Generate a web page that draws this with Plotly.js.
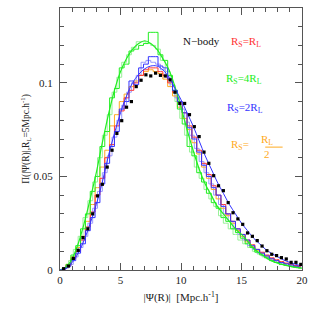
<!DOCTYPE html>
<html>
<head>
<meta charset="utf-8">
<script src="https://cdn.plot.ly/plotly-3.0.1.min.js"></script>
<style>html,body{margin:0;padding:0;background:#fff;}#chart{width:319px;height:319px;}</style>
</head>
<body>
<div id="chart"></div>
<script>
// N-body measured points (bin centres)
const nbodyX = [0.3,0.7,1.1,1.5,1.9,2.3,2.7,3.1,3.5,3.9,4.3,4.7,5.1,5.5,5.9,6.3,6.7,7.1,7.5,7.9,8.3,8.7,9.1,9.5,9.9,10.3,10.7,11.1,11.5,11.9,12.3,12.7,13.1,13.5,13.9,14.3,14.7,15.1,15.5,15.9,16.3,16.7,17.1,17.5,17.9,18.3,18.7,19.1,19.5,19.9];
const nbodyY = [0.0007,0.0021,0.0062,0.0105,0.0173,0.022,0.030,0.0396,0.0458,0.055,0.064,0.073,0.0798,0.087,0.090,0.098,0.1014,0.1043,0.1037,0.1052,0.104,0.1037,0.1016,0.095,0.089,0.089,0.083,0.0766,0.0713,0.063,0.057,0.0504,0.045,0.0424,0.036,0.0306,0.0273,0.0244,0.0198,0.018,0.0157,0.0128,0.0103,0.0084,0.0077,0.0066,0.0059,0.0041,0.0041,0.003];

// histogram bin centres
const binX = nbodyX;
const binX2 = [0.5,0.9,1.3,1.7,2.1,2.5,2.9,3.3,3.7,4.1,4.5,4.9,5.3,5.7,6.1,6.5,6.9,7.3,7.7,8.1,8.5,8.9,9.3,9.7,10.1,10.5,10.9,11.3,11.7,12.1,12.5,12.9,13.3,13.7,14.1,14.5,14.9,15.3,15.7,16.1,16.5,16.9,17.3,17.7,18.1,18.5,18.9,19.3,19.7];

const histRed = [0.0007,0.0025,0.006,0.010,0.016,0.023,0.031,0.040,0.049,0.060,0.067,0.077,0.085,0.092,0.096,0.100,0.104,0.107,0.108,0.108,0.106,0.104,0.100,0.095,0.090,0.084,0.077,0.071,0.064,0.057,0.051,0.045,0.040,0.035,0.030,0.026,0.022,0.019,0.016,0.0135,0.011,0.0095,0.008,0.0065,0.0055,0.0045,0.0037,0.003,0.0024,0.0019];
const histGreen = [0.001,0.003,0.008,0.013,0.022,0.030,0.042,0.050,0.066,0.074,0.092,0.097,0.108,0.110,0.117,0.118,0.120,0.121,0.127,0.127,0.115,0.112,0.104,0.096,0.086,0.078,0.066,0.061,0.052,0.047,0.041,0.036,0.033,0.028,0.026,0.022,0.020,0.017,0.014,0.012,0.0095,0.008,0.0065,0.005,0.004,0.003,0.0025,0.002,0.0015,0.001];
const histGreen2 = [0.002,0.005,0.011,0.018,0.028,0.037,0.047,0.060,0.072,0.083,0.095,0.103,0.111,0.115,0.119,0.122,0.122,0.121,0.120,0.118,0.112,0.106,0.099,0.090,0.081,0.072,0.063,0.055,0.049,0.043,0.038,0.034,0.029,0.025,0.022,0.019,0.016,0.014,0.012,0.010,0.0085,0.007,0.0058,0.0047,0.0038,0.003,0.0023,0.0017,0.0012];
const histBlue = [0.0005,0.002,0.005,0.009,0.014,0.021,0.028,0.036,0.046,0.057,0.066,0.074,0.086,0.090,0.101,0.099,0.108,0.110,0.114,0.114,0.109,0.108,0.102,0.096,0.090,0.084,0.076,0.070,0.063,0.056,0.050,0.044,0.040,0.034,0.030,0.026,0.022,0.019,0.016,0.013,0.011,0.009,0.0075,0.006,0.005,0.004,0.0033,0.0027,0.002,0.0015];
const histBlue2 = [0.001,0.003,0.007,0.012,0.018,0.025,0.033,0.042,0.052,0.061,0.071,0.080,0.088,0.095,0.100,0.104,0.111,0.112,0.111,0.110,0.107,0.103,0.098,0.092,0.086,0.079,0.072,0.065,0.058,0.052,0.046,0.040,0.035,0.030,0.026,0.022,0.019,0.016,0.013,0.011,0.009,0.0075,0.006,0.005,0.004,0.0032,0.0025,0.002,0.0015];
const histOrange = [0.001,0.003,0.007,0.012,0.018,0.026,0.035,0.044,0.055,0.064,0.077,0.083,0.090,0.094,0.098,0.101,0.104,0.106,0.107,0.106,0.105,0.102,0.098,0.093,0.087,0.081,0.075,0.068,0.062,0.055,0.049,0.043,0.038,0.033,0.029,0.025,0.021,0.018,0.015,0.0125,0.0105,0.009,0.0075,0.006,0.005,0.0042,0.0035,0.0028,0.0022,0.0017];

// smooth model curves
const curveX = [0,0.5,1,1.5,2,2.5,3,3.5,4,4.5,5,5.5,6,6.5,7,7.5,8,8.5,9,9.5,10,10.5,11,11.5,12,12.5,13,13.5,14,14.5,15,15.5,16,16.5,17,17.5,18,18.5,19,19.5,20];
const curveGreen = [0,0.0015,0.006,0.014,0.025,0.038,0.052,0.068,0.083,0.096,0.106,0.113,0.118,0.121,0.1225,0.121,0.118,0.113,0.107,0.098,0.087,0.075,0.064,0.054,0.046,0.040,0.034,0.030,0.026,0.022,0.019,0.0155,0.0115,0.009,0.0068,0.0048,0.0036,0.0027,0.002,0.0014,0.001];
const curveBlue = [0,0.001,0.004,0.009,0.016,0.025,0.035,0.047,0.061,0.073,0.084,0.093,0.1,0.1045,0.1075,0.109,0.109,0.107,0.103,0.097,0.091,0.084,0.077,0.069,0.061,0.054,0.047,0.041,0.035,0.030,0.025,0.021,0.017,0.014,0.011,0.0088,0.007,0.0053,0.004,0.003,0.0022];

const cRed = '#ff3333', cGreen = '#22ee22', cGreenL = '#99f099', cBlue = '#3333ff', cBlueL = '#9999ff', cOrange = '#ffaa22';

function hist(x, y, col, w) {
  return {x: x, y: y, type: 'scatter', mode: 'lines', line: {shape: 'hvh', color: col, width: w || 1}, hoverinfo: 'skip'};
}
const traces = [
  hist(binX2, histGreen2, cGreenL),
  hist(binX2, histBlue2, cBlueL),
  hist(binX, histOrange, cOrange),
  hist(binX, histRed, cRed),
  hist(binX, histGreen, cGreen),
  hist(binX, histBlue, cBlue),
  {x: curveX, y: curveGreen, type: 'scatter', mode: 'lines', line: {shape: 'spline', color: cGreen, width: 1.2}},
  {x: curveX, y: curveBlue, type: 'scatter', mode: 'lines', line: {shape: 'spline', color: cBlue, width: 1}},
  {x: nbodyX, y: nbodyY, type: 'scatter', mode: 'markers', marker: {symbol: 'square', size: 3.2, color: '#000'}}
];

const font = {family: 'Liberation Serif, Times New Roman, serif', size: 11, color: '#222'};
const axisCommon = {
  ticks: 'inside', ticklen: 7, tickcolor: '#555', tickwidth: 1,
  showline: true, linecolor: '#555', linewidth: 1, mirror: 'allticks',
  showgrid: false, zeroline: false, tickfont: font
};
const layout = {
  width: 319, height: 319,
  margin: {l: 60, r: 17, t: 8, b: 49},
  paper_bgcolor: '#fff', plot_bgcolor: '#fff',
  showlegend: false,
  font: font,
  xaxis: Object.assign({}, axisCommon, {
    range: [0, 20], tickmode: 'linear', tick0: 0, dtick: 5,
    minor: {dtick: 1, ticks: 'inside', ticklen: 4, tickcolor: '#555'},
    title: {text: '|Ψ(R)|  [Mpc.h<sup>-1</sup>]', font: {family: font.family, size: 11, color: '#222'}, standoff: 8}
  }),
  yaxis: Object.assign({}, axisCommon, {
    range: [0, 0.14], tickmode: 'linear', tick0: 0, dtick: 0.05,
    minor: {dtick: 0.01, ticks: 'inside', ticklen: 4, tickcolor: '#555'},
    ticklabelstandoff: 4,
    automargin: true,
    title: {text: 'Π(|Ψ(R)|,R<sub>L</sub>=5Mpc.h<sup>-1</sup>)', font: {family: font.family, size: 9.5, color: '#222'}, standoff: 2}
  }),
  annotations: [
    {xref: 'paper', yref: 'paper', x: 0.585, y: 0.905, text: 'N−body', showarrow: false, font: {family: font.family, size: 11, color: '#111'}},
    {xref: 'paper', yref: 'paper', x: 0.838, y: 0.905, text: 'R<sub>S</sub>=R<sub>L</sub>', showarrow: false, font: {family: font.family, size: 11, color: cRed}},
    {xref: 'paper', yref: 'paper', x: 0.844, y: 0.763, text: 'R<sub>S</sub>=4R<sub>L</sub>', showarrow: false, font: {family: font.family, size: 11, color: cGreen}},
    {xref: 'paper', yref: 'paper', x: 0.847, y: 0.618, text: 'R<sub>S</sub>=2R<sub>L</sub>', showarrow: false, font: {family: font.family, size: 11, color: cBlue}},
    {xref: 'paper', yref: 'paper', x: 0.788, y: 0.477, text: 'R<sub>S</sub>=', showarrow: false, font: {family: font.family, size: 11, color: cOrange}},
    {xref: 'paper', yref: 'paper', x: 0.888, y: 0.498, text: 'R<sub>L</sub>', showarrow: false, font: {family: font.family, size: 11, color: cOrange}},
    {xref: 'paper', yref: 'paper', x: 0.875, y: 0.442, text: '2', showarrow: false, font: {family: font.family, size: 11, color: cOrange}}
  ],
  shapes: [
    {type: 'line', xref: 'paper', yref: 'paper', x0: 0.848, x1: 0.92, y0: 0.469, y1: 0.469, line: {color: cOrange, width: 1}}
  ]
};
Plotly.newPlot('chart', traces, layout, {staticPlot: true, displayModeBar: false});
</script>
</body>
</html>
